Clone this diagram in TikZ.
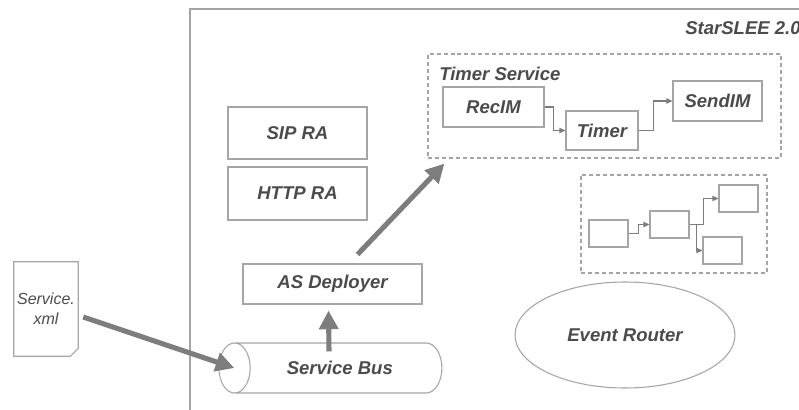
\documentclass[tikz,border=0pt]{standalone}
\usepackage{fontspec}
\setmainfont{Liberation Sans}
\usepackage{tikz}
\usetikzlibrary{shapes.geometric, arrows, arrows.meta}
\usetikzlibrary{calc,positioning}
\definecolor{boxgray}{RGB}{165,165,165}
\definecolor{textgray}{RGB}{75,75,75}
\definecolor{arrowgray}{RGB}{125,125,125}

\begin{document}
\begin{tikzpicture}[x=0.75pt,y=0.75pt,yscale=-1,xscale=1]
  \useasboundingbox (0,0) rectangle (799,410);
  \tikzstyle{label} = [text=textgray,font=\fontsize{13.9}{16}\selectfont\bfseries\itshape]
  \tikzstyle{box} = [label,draw=boxgray,line width=0.8pt,inner sep=0pt]
  \tikzstyle{group} = [draw=boxgray,line width=0.9pt,dash pattern=on 3pt off 2.2pt,inner sep=0pt]
  \tikzstyle{flow} = [draw=arrowgray,line width=0.8pt,-{Triangle[length=4.5pt,width=4pt]}]
  \tikzstyle{bigarrow} = [draw=arrowgray,line width=3.8pt,-{Triangle[length=14pt,width=14pt]}]
  %Draw the StarSLEE frame
  \draw [boxgray,line width=0.8pt] (810,9) -- (190,9) -- (190,420);
  \node [label,anchor=west,inner sep=0pt] (slee) at (685,28) {StarSLEE 2.0};
  %Draw the resource adaptors
  \node [box,minimum width=104.25pt,minimum height=39pt] (sip) at (297.5,133) {SIP RA};
  \node [box,minimum width=104.25pt,minimum height=39.75pt] (http) at (297.5,193.5) {HTTP RA};
  \node [box,minimum width=134.25pt,minimum height=30pt] (asd) at (332.5,284) {AS Deployer};
  %Draw the timer service
  \node [group,minimum width=264.75pt,minimum height=78pt] (ts) at (604.5,106) {};
  \node [label,anchor=west,inner sep=0pt] (tslabel) at (439,74) {Timer Service};
  \node [box,minimum width=75.75pt,minimum height=30pt] (rec) at (493.5,107) {RecIM};
  \node [box,minimum width=54pt,minimum height=29.25pt] (timer) at (602,130.5) {Timer};
  \node [box,minimum width=66.75pt,minimum height=30pt] (send) at (717.5,101) {SendIM};
  \draw [flow] (rec.east) -- ++(9,0) |- (timer.west);
  \draw [flow] (timer.east) -- ++(15,0) |- (send.west);
  %Draw the empty service
  \node [group,minimum width=139.5pt,minimum height=73.5pt] (other) at (674,224) {};
  \node [box,minimum width=29.25pt,minimum height=20.25pt] (b1) at (608.5,233.5) {};
  \node [box,minimum width=29.25pt,minimum height=20.25pt] (b2) at (669.5,224.5) {};
  \node [box,minimum width=29.25pt,minimum height=20.25pt] (b3) at (738.5,198.5) {};
  \node [box,minimum width=29.25pt,minimum height=20.25pt] (b4) at (722.5,250.5) {};
  \draw [flow] (b1.east) -- ++(10,0) |- (b2.west);
  \draw [flow] (b2.east) -- ++(14,0) |- (b3.west);
  \draw [flow] (b2.east) -- ++(7,0) |- (b4.west);
  %Draw the event router and the bus
  \node [box,ellipse,minimum width=165pt,minimum height=79.5pt] (router) at (625,335) {Event Router};
  \node [box,cylinder,shape border rotate=180,aspect=2.3,minimum width=37.5pt,minimum height=167.25pt] (bus) at (338.5,368) {\hspace*{2pt}Service Bus};
  %Draw the service file
  \node [inner sep=0pt,minimum width=48pt,minimum height=70.5pt,align=center,text=textgray,font=\fontsize{12}{15}\selectfont\itshape] (xml) at (46,309) {Service.\\xml};
  \draw [boxgray,line width=0.8pt] (xml.north west) -- (xml.north east) -- ($(xml.south east)+(0,-8)$) -- ($(xml.south east)+(-8,0)$) -- (xml.south west) -- cycle;
  % Draw the big arrows
  \draw [bigarrow] ($(xml.east)+(5,8)$) -- ($(bus.west)+(16,0)$);
  \draw [bigarrow] ($(bus.north)+(-9.5,9)$) -- ($(asd.south)+(-4,6)$);
  \draw [bigarrow] ($(asd.north)+(25,-9)$) -- ($(ts.south west)+(17,5)$);
\end{tikzpicture}
\end{document}
